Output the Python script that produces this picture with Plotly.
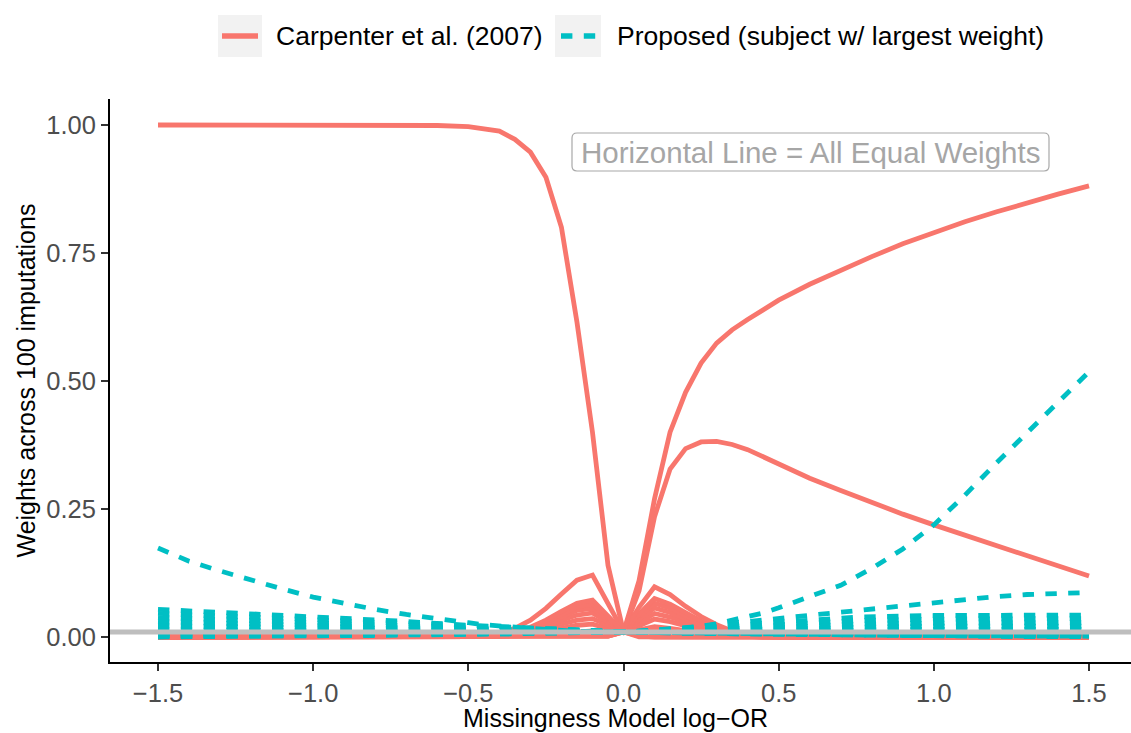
import plotly.graph_objects as go

# ---------------------------------------------------------------------------
# Data: weights of individual subjects across the missingness-model log-OR
# ---------------------------------------------------------------------------
# fine grid used for the curves that change quickly near zero
X = [-1.5, -1.4, -1.3, -1.2, -1.1, -1.0, -0.9, -0.8, -0.7, -0.6,
     -0.5, -0.45, -0.4, -0.35, -0.3, -0.25, -0.2, -0.15, -0.1, -0.05,
     0.0,
     0.05, 0.1, 0.15, 0.2, 0.25, 0.3, 0.35, 0.4, 0.45, 0.5,
     0.6, 0.7, 0.8, 0.9, 1.0, 1.1, 1.2, 1.3, 1.4, 1.5]

# coarse grid used for the slowly varying subjects
XC = [-1.5, -1.25, -1.0, -0.75, -0.5, -0.25, 0.0, 0.25, 0.5, 0.75, 1.0, 1.25, 1.5]

# Carpenter et al. (2007) weights
carp_min_y = [1.0, 1.0, 1.0, 1.0, 1.0, 1.0, 1.0, 1.0, 1.0, 0.999,
              0.997, 0.993, 0.988, 0.972, 0.947, 0.898, 0.80, 0.615, 0.40, 0.14,
              0.01,
              0.0005] + [0.0] * 19
carp_max_y = [0.0] * 19 + [0.002, 0.01,
              0.11, 0.27, 0.40, 0.478, 0.535, 0.574, 0.60, 0.62, 0.64, 0.658,
              0.689, 0.717, 0.743, 0.768, 0.790, 0.811, 0.830, 0.848, 0.865, 0.881]
carp_second_y = [0.0] * 19 + [0.002, 0.01,
                 0.09, 0.235, 0.328, 0.368, 0.381, 0.382, 0.376, 0.366, 0.352, 0.337,
                 0.31, 0.286, 0.262, 0.24, 0.219, 0.199, 0.179, 0.159, 0.139, 0.119]
carp_h1 = [0.0] * 11 + [0.002, 0.007, 0.017, 0.033, 0.056, 0.084, 0.111, 0.121, 0.066,
                        0.01,
                        0.014, 0.02, 0.017, 0.012, 0.008, 0.005, 0.003, 0.001] + [0.0] * 12
carp_h2 = [0.0] * 11 + [0.001, 0.004, 0.01, 0.019, 0.033, 0.05, 0.066, 0.072, 0.04,
                        0.01,
                        0.058, 0.098, 0.083, 0.06, 0.04, 0.024, 0.012, 0.005, 0.002, 0.001] + [0.0] * 10
carp_h3 = [0.0] * 11 + [0.001, 0.004, 0.009, 0.017, 0.029, 0.044, 0.059, 0.064, 0.036,
                        0.01,
                        0.045, 0.075, 0.064, 0.047, 0.031, 0.019, 0.01, 0.004, 0.002, 0.001] + [0.0] * 10
carp_h4 = [0.0] * 11 + [0.001, 0.003, 0.008, 0.015, 0.026, 0.039, 0.052, 0.056, 0.032,
                        0.01,
                        0.04, 0.066, 0.056, 0.041, 0.027, 0.016, 0.009, 0.004, 0.002, 0.001] + [0.0] * 10
carp_h5 = [0.0] * 11 + [0.001, 0.003, 0.007, 0.013, 0.022, 0.032, 0.043, 0.047, 0.028,
                        0.01,
                        0.034, 0.057, 0.048, 0.035, 0.023, 0.014, 0.007, 0.003, 0.001] + [0.0] * 11
carp_h6 = [0.0] * 11 + [0.0, 0.002, 0.005, 0.01, 0.017, 0.025, 0.033, 0.036, 0.023,
                        0.01,
                        0.028, 0.046, 0.039, 0.029, 0.019, 0.011, 0.006, 0.003, 0.001] + [0.0] * 11
carp_h7 = [0.0] * 11 + [0.0, 0.001, 0.003, 0.007, 0.012, 0.017, 0.023, 0.025, 0.017,
                        0.01,
                        0.022, 0.035, 0.03, 0.022, 0.014, 0.009, 0.005, 0.002, 0.001] + [0.0] * 11
carp_h8 = [0.0] * 11 + [0.0, 0.0, 0.002, 0.003, 0.005, 0.008, 0.011, 0.012, 0.011,
                        0.01,
                        0.012, 0.015, 0.013, 0.009, 0.006, 0.004, 0.002, 0.001] + [0.0] * 12
carp_h9 = [0.0] * 19 + [0.002, 0.01, 0.002] + [0.0] * 19

carpenter = [carp_h9, carp_h8, carp_h7, carp_h6, carp_h5, carp_h4, carp_h3,
             carp_h2, carp_h1, carp_second_y, carp_max_y, carp_min_y]

# Proposed method: subject with the largest weight (fine grid)
prop_left = [0.174, 0.148, 0.129, 0.111, 0.094, 0.078, 0.065, 0.054, 0.044, 0.035,
             0.028, 0.024, 0.021, 0.019, 0.017, 0.015, 0.012, 0.011, 0.0105, 0.010,
             0.01,
             0.0095, 0.009, 0.0085, 0.008, 0.0075, 0.007, 0.0065, 0.006, 0.0055, 0.005,
             0.0045, 0.004, 0.0035, 0.003, 0.0028, 0.0025, 0.0022, 0.002, 0.0018, 0.0015]
prop_right = [0.001, 0.001, 0.001, 0.002, 0.002, 0.002, 0.003, 0.003, 0.004, 0.004,
              0.005, 0.005, 0.006, 0.006, 0.007, 0.007, 0.008, 0.008, 0.009, 0.0095,
              0.01,
              0.011, 0.012, 0.014, 0.017, 0.021, 0.026, 0.033, 0.039, 0.047, 0.057,
              0.078, 0.101, 0.134, 0.172, 0.219, 0.277, 0.339, 0.398, 0.456, 0.518]
prop_right2 = [0.002, 0.002, 0.003, 0.003, 0.003, 0.004, 0.004, 0.005, 0.005, 0.006,
               0.006, 0.007, 0.007, 0.007, 0.008, 0.008, 0.008, 0.009, 0.009, 0.0095,
               0.01,
               0.011, 0.013, 0.015, 0.018, 0.021, 0.024, 0.027, 0.030, 0.033, 0.036,
               0.042, 0.048, 0.055, 0.062, 0.068, 0.074, 0.079, 0.083, 0.085, 0.087]

# Proposed method: remaining subjects (coarse grid)
prop_l1 = [0.054, 0.047, 0.040, 0.032, 0.023, 0.0155, 0.01, 0.007, 0.005, 0.003, 0.002, 0.001, 0.001]
prop_l2 = [0.046, 0.040, 0.034, 0.027, 0.020, 0.014, 0.01, 0.007, 0.005, 0.004, 0.003, 0.002, 0.002]
prop_l3 = [0.038, 0.033, 0.028, 0.023, 0.017, 0.013, 0.01, 0.008, 0.006, 0.005, 0.004, 0.003, 0.003]
prop_l4 = [0.030, 0.026, 0.023, 0.019, 0.015, 0.012, 0.01, 0.008, 0.007, 0.006, 0.005, 0.004, 0.004]
prop_l5 = [0.022, 0.020, 0.018, 0.015, 0.013, 0.011, 0.01, 0.009, 0.008, 0.007, 0.006, 0.006, 0.006]
prop_r1 = [0.0, 0.001, 0.002, 0.004, 0.006, 0.008, 0.01, 0.019, 0.030, 0.039, 0.042, 0.043, 0.043]
prop_r2 = [0.003, 0.004, 0.005, 0.006, 0.007, 0.009, 0.01, 0.016, 0.025, 0.032, 0.035, 0.036, 0.036]
prop_r3 = [0.006, 0.006, 0.007, 0.008, 0.008, 0.009, 0.01, 0.014, 0.020, 0.025, 0.027, 0.028, 0.028]
prop_r4 = [0.009, 0.009, 0.009, 0.009, 0.0095, 0.0098, 0.01, 0.012, 0.016, 0.019, 0.021, 0.021, 0.021]
prop_r5 = [0.014, 0.013, 0.012, 0.012, 0.011, 0.0105, 0.01, 0.011, 0.013, 0.014, 0.015, 0.015, 0.015]

proposed_fine = [prop_left, prop_right2, prop_right]
proposed_coarse = [prop_l1, prop_l2, prop_l3, prop_l4, prop_l5,
                   prop_r1, prop_r2, prop_r3, prop_r4, prop_r5]

EQUAL_WEIGHT = 1 / 100

x_ticks = [-1.5, -1.0, -0.5, 0.0, 0.5, 1.0, 1.5]
x_tick_text = ["\u22121.5", "\u22121.0", "\u22120.5", "0.0", "0.5", "1.0", "1.5"]
y_ticks = [0.0, 0.25, 0.5, 0.75, 1.0]
y_tick_text = ["0.00", "0.25", "0.50", "0.75", "1.00"]

legend_labels = ["Carpenter et al. (2007)", "Proposed (subject w/ largest weight)"]

# ---------------------------------------------------------------------------
# Styling / geometry
# ---------------------------------------------------------------------------
W, H = 1131, 733
ML, MR, MT, MB = 110, 0, 99, 71
PW, PH = W - ML - MR, H - MT - MB
RED = "#F8766D"
CYAN = "#00BFC4"
FONT = "Liberation Sans, Arial, Helvetica, sans-serif"
LW = 4.8
DASH = "11.4px,11.4px"


def px_x(p):
    return (p - ML) / PW


def px_y(p):
    return (H - MB - p) / PH


fig = go.Figure()

for ys in carpenter:
    fig.add_trace(go.Scatter(x=X, y=ys, mode="lines",
                             line=dict(color=RED, width=LW),
                             hoverinfo="skip", showlegend=False))
for ys in proposed_coarse:
    fig.add_trace(go.Scatter(x=XC, y=ys, mode="lines",
                             line=dict(color=CYAN, width=LW, dash=DASH),
                             hoverinfo="skip", showlegend=False))
for ys in proposed_fine:
    fig.add_trace(go.Scatter(x=X, y=ys, mode="lines",
                             line=dict(color=CYAN, width=LW, dash=DASH),
                             hoverinfo="skip", showlegend=False))

shapes = []
# reference line: all subjects receive equal weight
shapes.append(dict(type="line", xref="paper", x0=0, x1=1, yref="y",
                   y0=EQUAL_WEIGHT, y1=EQUAL_WEIGHT,
                   line=dict(color="#BEBEBE", width=5), layer="above"))


def rounded_box(x0, y0, x1, y1, r):
    pts = []
    pts.append(f"M {px_x(x0 + r)},{px_y(y0)}")
    pts.append(f"L {px_x(x1 - r)},{px_y(y0)}")
    pts.append(f"Q {px_x(x1)},{px_y(y0)} {px_x(x1)},{px_y(y0 + r)}")
    pts.append(f"L {px_x(x1)},{px_y(y1 - r)}")
    pts.append(f"Q {px_x(x1)},{px_y(y1)} {px_x(x1 - r)},{px_y(y1)}")
    pts.append(f"L {px_x(x0 + r)},{px_y(y1)}")
    pts.append(f"Q {px_x(x0)},{px_y(y1)} {px_x(x0)},{px_y(y1 - r)}")
    pts.append(f"L {px_x(x0)},{px_y(y0 + r)}")
    pts.append(f"Q {px_x(x0)},{px_y(y0)} {px_x(x0 + r)},{px_y(y0)} Z")
    return " ".join(pts)


# label box
shapes.append(dict(type="path", xref="paper", yref="paper",
                   path=rounded_box(572, 133, 1049, 171, 5),
                   fillcolor="white", line=dict(color="#A8A8A8", width=1.2),
                   layer="above"))

# legend keys
key_boxes = [(218, 262), (555, 601)]
for (a, b) in key_boxes:
    shapes.append(dict(type="rect", xref="paper", yref="paper",
                       x0=px_x(a), x1=px_x(b), y0=px_y(57), y1=px_y(15),
                       fillcolor="#F2F2F2", line=dict(width=0), layer="above"))
shapes.append(dict(type="line", xref="paper", yref="paper",
                   x0=px_x(222), x1=px_x(258), y0=px_y(36), y1=px_y(36),
                   line=dict(color=RED, width=5.5), layer="above"))
shapes.append(dict(type="line", xref="paper", yref="paper",
                   x0=px_x(561), x1=px_x(597), y0=px_y(36), y1=px_y(36),
                   line=dict(color=CYAN, width=5.5, dash=DASH), layer="above"))

annotations = [
    dict(text=legend_labels[0], xref="paper", yref="paper",
         x=px_x(274), y=px_y(36), xanchor="left", yanchor="middle",
         showarrow=False, font=dict(family=FONT, size=26.5, color="black")),
    dict(text=legend_labels[1], xref="paper", yref="paper",
         x=px_x(615), y=px_y(36), xanchor="left", yanchor="middle",
         showarrow=False, font=dict(family=FONT, size=26.5, color="black")),
    dict(text="Horizontal Line = All Equal Weights", xref="paper", yref="paper",
         x=px_x(810.5), y=px_y(152.5), xanchor="center", yanchor="middle",
         showarrow=False, font=dict(family=FONT, size=29.5, color="#A6A6A6")),
    dict(text="Missingness Model log\u2212OR", xref="paper", yref="paper",
         x=px_x(615), y=px_y(718), xanchor="center", yanchor="middle",
         showarrow=False, font=dict(family=FONT, size=25, color="black")),
    dict(text="Weights across 100 imputations", xref="paper", yref="paper",
         x=px_x(25), y=0.5, xanchor="center", yanchor="middle", textangle=-90,
         showarrow=False, font=dict(family=FONT, size=25, color="black")),
]

axis_common = dict(showgrid=False, zeroline=False, showline=True,
                   linecolor="black", linewidth=2, ticks="outside",
                   ticklen=7, tickwidth=2, tickcolor="#333333",
                   tickfont=dict(family=FONT, size=25.5, color="#4D4D4D"))

fig.update_layout(
    width=W, height=H,
    margin=dict(l=ML, r=MR, t=MT, b=MB, pad=0),
    paper_bgcolor="white", plot_bgcolor="white",
    showlegend=False,
    shapes=shapes,
    annotations=annotations,
    xaxis=dict(range=[-1.6547, 1.6353], tickvals=x_ticks, ticktext=x_tick_text,
               **axis_common),
    yaxis=dict(range=[-0.0488, 1.0508], tickvals=y_ticks, ticktext=y_tick_text,
               **axis_common),
)

fig.write_html("out.html")
